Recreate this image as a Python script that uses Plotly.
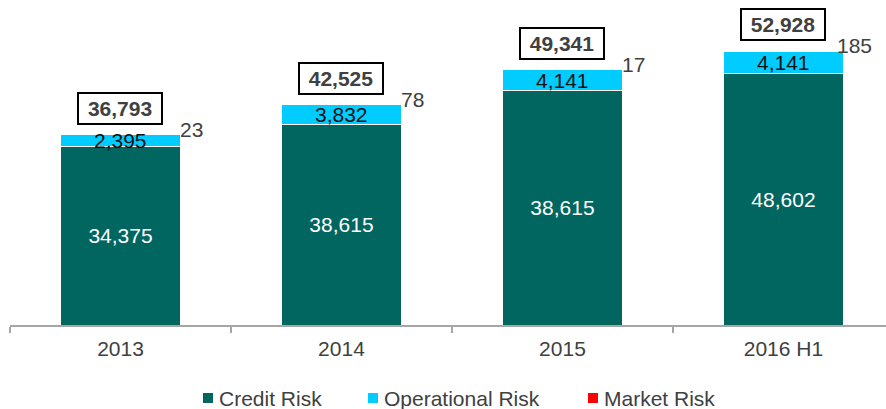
import plotly.graph_objects as go

categories = ["2013", "2014", "2015", "2016 H1"]
credit = [34375, 38615, 45180, 48602]
credit_labels = ["34,375", "38,615", "38,615", "48,602"]
operational = [2395, 3832, 4141, 4141]
operational_labels = ["2,395", "3,832", "4,141", "4,141"]
market = [23, 78, 17, 185]
market_labels = ["23", "78", "17", "185"]
total_labels = ["36,793", "42,525", "49,341", "52,928"]
series_names = ["Credit Risk", "Operational Risk", "Market Risk"]

C_CREDIT = "#00665F"
C_OPS = "#00CCFF"
C_MARKET = "#FF0000"
GRAY = "#404040"
FONT = "Liberation Sans, Arial, sans-serif"

W, H = 886, 409
ML, MR, MT, MB = 10, 0, 0, 84
PW, PH = W - ML - MR, H - MT - MB


def px_x(px):
    return (px - ML) / PW


def px_y(py):
    return (H - MB - py) / PH


fig = go.Figure()
fig.add_trace(go.Bar(name=series_names[0], x=categories, y=credit,
                     marker=dict(color=C_CREDIT, line=dict(color="white", width=1)),
                     text=credit_labels, textposition="inside", insidetextanchor="middle", textangle=0,
                     textfont=dict(color="white", size=21, family=FONT), hoverinfo="skip", showlegend=False))
fig.add_trace(go.Bar(name=series_names[1], x=categories, y=operational,
                     marker=dict(color=C_OPS, line=dict(color="white", width=1)),
                     textposition="none", hoverinfo="skip", showlegend=False))
fig.add_trace(go.Bar(name=series_names[2], x=categories, y=market,
                     marker=dict(color=C_MARKET, line=dict(width=0)), opacity=0,
                     textposition="none", hoverinfo="skip", showlegend=False))

annotations = []
for i, cat in enumerate(categories):
    top = credit[i] + operational[i] + market[i]
    annotations.append(dict(x=i, y=credit[i] + operational[i] / 2, text=operational_labels[i], showarrow=False,
                            font=dict(color="#111111", size=21, family=FONT), xanchor="center", yanchor="middle"))
    annotations.append(dict(x=i, y=top, text=market_labels[i], showarrow=False, xshift=71, yshift=5,
                            font=dict(color=GRAY, size=21, family=FONT), xanchor="center", yanchor="middle"))
    annotations.append(dict(x=i, y=top, text="<b>" + total_labels[i] + "</b>", showarrow=False, yshift=26,
                            font=dict(color=GRAY, size=21, family=FONT), xanchor="center", yanchor="middle",
                            bordercolor="black", borderwidth=2, borderpad=2, width=78, height=25, bgcolor="white"))

# custom legend (marker squares + labels)
legend_marker_px = [203, 368, 588]
legend_colors = [C_CREDIT, C_OPS, C_MARKET]
shapes = []
for name, mx, col in zip(series_names, legend_marker_px, legend_colors):
    shapes.append(dict(type="rect", xref="paper", yref="paper",
                       x0=px_x(mx), x1=px_x(mx + 10), y0=px_y(403), y1=px_y(393),
                       fillcolor=col, line=dict(width=0)))
    annotations.append(dict(xref="paper", yref="paper", x=px_x(mx + 14), y=px_y(398), text=name,
                            showarrow=False, xanchor="left", yanchor="middle",
                            font=dict(color=GRAY, size=21, family=FONT)))

fig.update_layout(
    width=W, height=H,
    margin=dict(l=ML, r=MR, t=MT, b=MB, autoexpand=False),
    barmode="stack", bargap=0.453,
    plot_bgcolor="white", paper_bgcolor="white",
    font=dict(family=FONT, size=21, color=GRAY),
    showlegend=False,
    annotations=annotations,
    shapes=shapes,
)
fig.update_xaxes(range=[-0.5, 3.464], showline=True, linecolor="#A6A6A6", linewidth=2,
                 ticks="outside", tickson="boundaries", ticklen=6, tickcolor="#A6A6A6", tickwidth=2,
                 ticklabelstandoff=4, automargin=False,
                 tickfont=dict(size=21, color=GRAY, family=FONT), showgrid=False, zeroline=False, fixedrange=True)
fig.update_yaxes(range=[0, 62700], visible=False, showgrid=False, zeroline=False, fixedrange=True, automargin=False)

fig.write_html("out.html", config=dict(displayModeBar=False),
               post_script="document.body.style.margin='0';document.body.style.overflow='hidden';")
